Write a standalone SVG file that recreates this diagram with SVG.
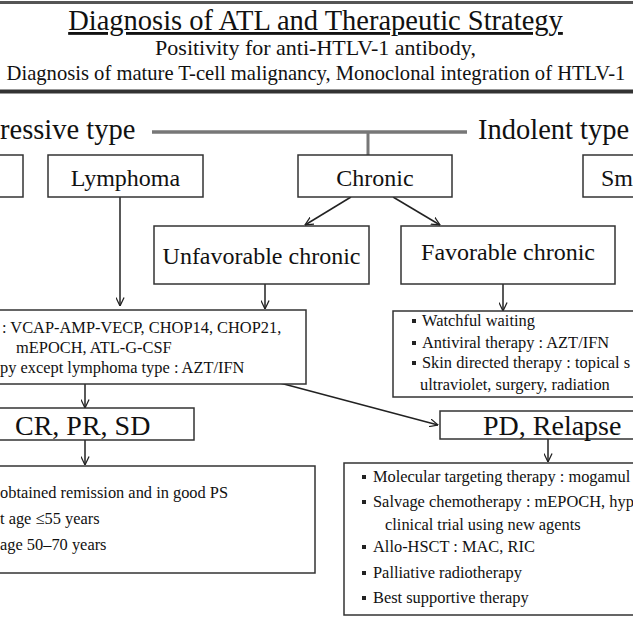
<svg xmlns="http://www.w3.org/2000/svg" width="633" height="633" viewBox="0 0 633 633" font-family="'Liberation Serif', Tinos, 'Times New Roman', 'DejaVu Serif', serif">
<defs>
<marker id="ah" viewBox="0 0 10 10" refX="9.5" refY="5" markerWidth="9" markerHeight="9" markerUnits="userSpaceOnUse" orient="auto">
<path d="M0,0.5 L9.5,5 L0,9.5" fill="none" stroke="#222" stroke-width="1.4"/>
</marker>
<style>
text{font-family:'Liberation Serif', Tinos, 'Times New Roman', 'DejaVu Serif', serif;fill:#111}
.box{fill:#fff;stroke:#333;stroke-width:1.5}
.h{font-size:24px}
.big{font-size:28px}
.b{font-size:16.4px}
.c{fill:none;stroke:#222;stroke-width:1.5}
.bul{fill:#222}
</style>
</defs>
<rect width="633" height="633" fill="#fff"/>
<g id="header">
<line x1="0" y1="2.5" x2="633" y2="2.5" stroke="#555" stroke-width="3"/>
<line x1="0" y1="91.5" x2="633" y2="91.5" stroke="#333" stroke-width="4"/>
<text x="315.5" y="30" font-size="28.5" text-anchor="middle" text-decoration="underline">Diagnosis of ATL and Therapeutic Strategy</text>
<text x="315.5" y="54.5" font-size="22" text-anchor="middle">Positivity for anti-HTLV-1 antibody,</text>
<text x="316" y="80" font-size="20.6" text-anchor="middle">Diagnosis of mature T-cell malignancy, Monoclonal integration of HTLV-1</text>
</g>
<g id="type-labels">
<text x="0" y="139" font-size="28.5">ressive type</text>
<text x="478" y="139" font-size="28.5">Indolent type</text>
<line x1="152" y1="132" x2="467" y2="132" stroke="#777" stroke-width="3.5"/>
<line x1="368" y1="132" x2="368" y2="155" stroke="#777" stroke-width="3"/>
</g>
<g id="connectors">
<line class="c" x1="120" y1="197" x2="120" y2="306" marker-end="url(#ah)" stroke-width="2"/>
<line class="c" x1="351" y1="197" x2="305" y2="225" marker-end="url(#ah)"/>
<line class="c" x1="393" y1="197" x2="440" y2="225" marker-end="url(#ah)"/>
<line class="c" x1="265" y1="284" x2="265" y2="309" marker-end="url(#ah)"/>
<line class="c" x1="503" y1="284" x2="503" y2="311" marker-end="url(#ah)"/>
<line class="c" x1="85" y1="384" x2="85" y2="408" marker-end="url(#ah)"/>
<line class="c" x1="85" y1="440" x2="85" y2="465" marker-end="url(#ah)"/>
<line class="c" x1="280" y1="383" x2="438" y2="425" marker-end="url(#ah)"/>
<line class="c" x1="548" y1="439" x2="548" y2="462" marker-end="url(#ah)"/>
</g>
<g id="node-aggressive-left">
<rect class="box" x="-10" y="155" width="33" height="42"/>
</g>
<g id="node-lymphoma">
<rect class="box" x="48" y="155" width="155" height="42"/>
<text class="h" x="125.5" y="186" text-anchor="middle">Lymphoma</text>
</g>
<g id="node-chronic">
<rect class="box" x="298" y="155" width="154" height="42"/>
<text class="h" x="375" y="186" text-anchor="middle">Chronic</text>
</g>
<g id="node-smoldering">
<rect class="box" x="583" y="155" width="60" height="42"/>
<text class="h" x="601" y="186">Sm</text>
</g>
<g id="node-unfavorable">
<rect class="box" x="154" y="226" width="215" height="58"/>
<text class="h" x="261.5" y="264" text-anchor="middle">Unfavorable chronic</text>
</g>
<g id="node-favorable">
<rect class="box" x="401" y="226" width="214" height="58"/>
<text class="h" x="508" y="260" text-anchor="middle">Favorable chronic</text>
</g>
<g id="node-chemo">
<rect class="box" x="-10" y="310" width="316" height="74"/>
<text class="b" x="2" y="333" font-size="16.6">: VCAP-AMP-VECP, CHOP14, CHOP21,</text>
<text class="b" x="16" y="353">mEPOCH, ATL-G-CSF</text>
<text class="b" x="0" y="373">py except lymphoma type : AZT/IFN</text>
</g>
<g id="node-watchful">
<rect class="box" x="393" y="311" width="250" height="86"/>
<rect class="bul" x="412" y="319" width="4" height="4"/>
<text class="b" x="422" y="326">Watchful waiting</text>
<rect class="bul" x="412" y="341" width="4" height="4"/>
<text class="b" x="422" y="348">Antiviral therapy : AZT/IFN</text>
<rect class="bul" x="412" y="361" width="4" height="4"/>
<text class="b" x="422" y="368">Skin directed therapy : topical s</text>
<text class="b" x="420" y="390">ultraviolet, surgery, radiation</text>
</g>
<g id="node-cr">
<rect class="box" x="-10" y="408" width="204" height="32"/>
<text class="big" x="15" y="435">CR, PR, SD</text>
</g>
<g id="node-pd">
<rect class="box" x="440" y="411" width="203" height="28"/>
<text class="big" x="483" y="435">PD, Relapse</text>
</g>
<g id="node-remission">
<rect class="box" x="-10" y="466" width="325" height="107"/>
<text class="b" x="0" y="498">obtained remission and in good PS</text>
<text class="b" x="0" y="524">t age ≤55 years</text>
<text class="b" x="0" y="550">age 50–70 years</text>
</g>
<g id="node-salvage">
<rect class="box" x="344" y="463" width="299" height="152"/>
<rect class="bul" x="362" y="475" width="4" height="4"/>
<text class="b" x="373" y="482">Molecular targeting therapy : mogamul</text>
<rect class="bul" x="362" y="500" width="4" height="4"/>
<text class="b" x="373" y="507">Salvage chemotherapy : mEPOCH, hyp</text>
<text class="b" x="385" y="530">clinical trial using new agents</text>
<rect class="bul" x="362" y="545" width="4" height="4"/>
<text class="b" x="373" y="552">Allo-HSCT : MAC, RIC</text>
<rect class="bul" x="362" y="571" width="4" height="4"/>
<text class="b" x="373" y="578">Palliative radiotherapy</text>
<rect class="bul" x="362" y="596" width="4" height="4"/>
<text class="b" x="373" y="603">Best supportive therapy</text>
</g>
</svg>
